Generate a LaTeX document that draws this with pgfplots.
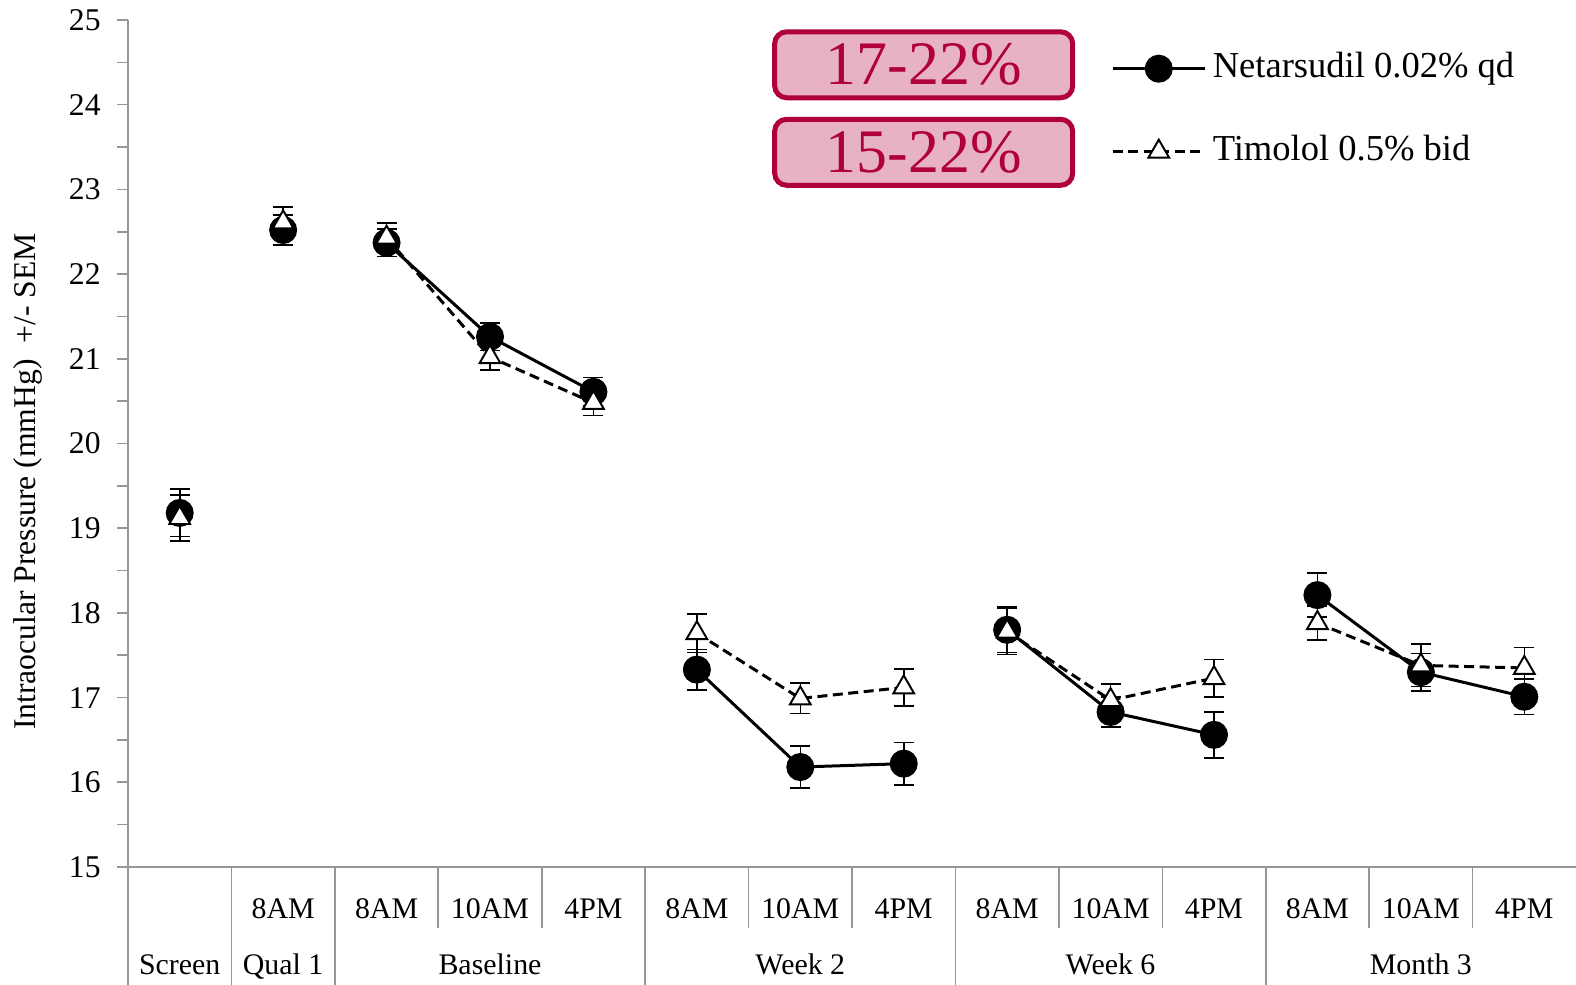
\documentclass[border=0pt]{standalone}
\usepackage{pgfplots}
\usepackage{pgfplotstable}
\usepackage{fontspec}
\setmainfont{Liberation Serif}
\pgfplotsset{compat=1.18}
\definecolor{boxred}{RGB}{176,0,60}
\definecolor{boxpink}{RGB}{230,178,196}
\definecolor{axgray}{RGB}{150,150,150}

\pgfplotstableread{
x y e
0 19.18 0.28
nan nan nan
1 22.52 0.18
nan nan nan
2 22.37 0.16
3 21.26 0.16
4 20.61 0.17
nan nan nan
5 17.33 0.24
6 16.18 0.25
7 16.22 0.25
nan nan nan
8 17.80 0.27
9 16.83 0.18
10 16.56 0.27
nan nan nan
11 18.21 0.26
12 17.30 0.22
13 17.01 0.21
}\netar

\pgfplotstableread{
x y e
0 19.12 0.27
nan nan nan
1 22.61 0.18
nan nan nan
2 22.43 0.17
3 21.02 0.15
4 20.48 0.15
nan nan nan
5 17.76 0.23
6 16.99 0.18
7 17.12 0.22
nan nan nan
8 17.78 0.27
9 16.97 0.19
10 17.23 0.22
nan nan nan
11 17.88 0.20
12 17.38 0.25
13 17.35 0.24
}\timol

\begin{document}
\begin{tikzpicture}
\useasboundingbox (-12.8mm,-11.8mm) rectangle (144.8mm,86.7mm);
\begin{axis}[
  scale only axis, width=144.8mm, height=84.7mm,
  xmin=-0.5, xmax=13.5, ymin=15, ymax=25,
  axis lines*=left,
  axis line style={draw=axgray, line width=0.45pt},
  clip=false,
  unbounded coords=jump,
  /pgf/number format/assume math mode=true,
  ytick={15,16,...,25},
  minor ytick={15.5,16.5,...,24.5},
  tick align=outside,
  major tick length=1.1mm, minor tick length=1.1mm,
  tick style={draw=axgray, line width=0.45pt},
  xtick={0,...,13},
  x tick style={draw=none},
  xticklabels={,8AM,8AM,10AM,4PM,8AM,10AM,4PM,8AM,10AM,4PM,8AM,10AM,4PM},
  xticklabel style={anchor=base, yshift=-4.1mm, font=\fontsize{8.5}{10}\selectfont},
  yticklabel style={font=\fontsize{9}{10}\selectfont, xshift=-0.4mm},
  ylabel={Intraocular Pressure (mmHg)\ \ +/- SEM},
  ylabel style={at={(axis description cs:-0.069,0.455)}, anchor=center, font=\fontsize{9}{11}\selectfont},
  legend style={at={(axis cs:9.0,23.935)}, anchor=west, draw=none, fill=none,
    inner sep=0pt, row sep=4.9mm, font=\fontsize{10.4}{12}\selectfont,
    nodes={inner sep=0pt, text height=2.6mm, text depth=0.8mm}},
  legend cell align=left,
  legend image code/.code={\draw[mark repeat=2,mark phase=2,#1] plot coordinates {(0mm,0mm) (4.6mm,0mm) (9.25mm,0mm)};},
]
\addplot[black, line width=0.85pt, mark=*, mark size=1.25mm,
  error bars/.cd, y dir=both, y explicit,
  error bar style={line width=0.45pt, black, solid},
  error mark options={rotate=90, mark size=1mm, line width=0.45pt, black, solid}]
  table[x=x, y=y, y error=e] {\netar};
\addlegendentry{\hspace{0.6mm}Netarsudil 0.02\% qd}
\addplot[black, line width=0.85pt, dash pattern=on 1mm off 0.55mm, mark=triangle*, mark size=1.2mm,
  mark options={solid, fill=white, draw=black, line width=0.55pt},
  error bars/.cd, y dir=both, y explicit,
  error bar style={line width=0.45pt, black, solid},
  error mark options={rotate=90, mark size=1mm, line width=0.45pt, black, solid}]
  table[x=x, y=y, y error=e] {\timol};
\addlegendentry{\hspace{0.6mm}Timolol 0.5\% bid}

% category table lines
\pgfplotsinvokeforeach{-0.5,0.5,1.5,4.5,7.5,10.5}{
  \draw[axgray, line width=0.45pt] (axis cs:#1,15) -- ([yshift=-11.8mm]axis cs:#1,15);
}
\pgfplotsinvokeforeach{2.5,3.5,5.5,6.5,8.5,9.5,11.5,12.5}{
  \draw[axgray, line width=0.45pt] (axis cs:#1,15) -- ([yshift=-6.1mm]axis cs:#1,15);
}
\begin{scope}[every node/.style={anchor=base, font=\fontsize{8.5}{10}\selectfont}]
\node at ([yshift=-10.8mm]axis cs:0,15) {Screen};
\node at ([yshift=-10.8mm]axis cs:1,15) {Qual 1};
\node at ([yshift=-10.8mm]axis cs:3,15) {Baseline};
\node at ([yshift=-10.8mm]axis cs:6,15) {Week 2};
\node at ([yshift=-10.8mm]axis cs:9,15) {Week 6};
\node at ([yshift=-10.8mm]axis cs:12,15) {Month 3};
\end{scope}

% percentage boxes
\begin{scope}[every node/.style={draw=boxred, fill=boxpink, line width=0.5mm, rounded corners=1.2mm,
   minimum width=29.8mm, minimum height=6.6mm, inner sep=0pt, text=boxred,
   font=\fontsize{17.6}{20}\selectfont}]
\node at (axis cs:7.193,24.471) {17-22\%};
\node at (axis cs:7.193,23.438) {15-22\%};
\end{scope}
\end{axis}
\end{tikzpicture}
\end{document}
